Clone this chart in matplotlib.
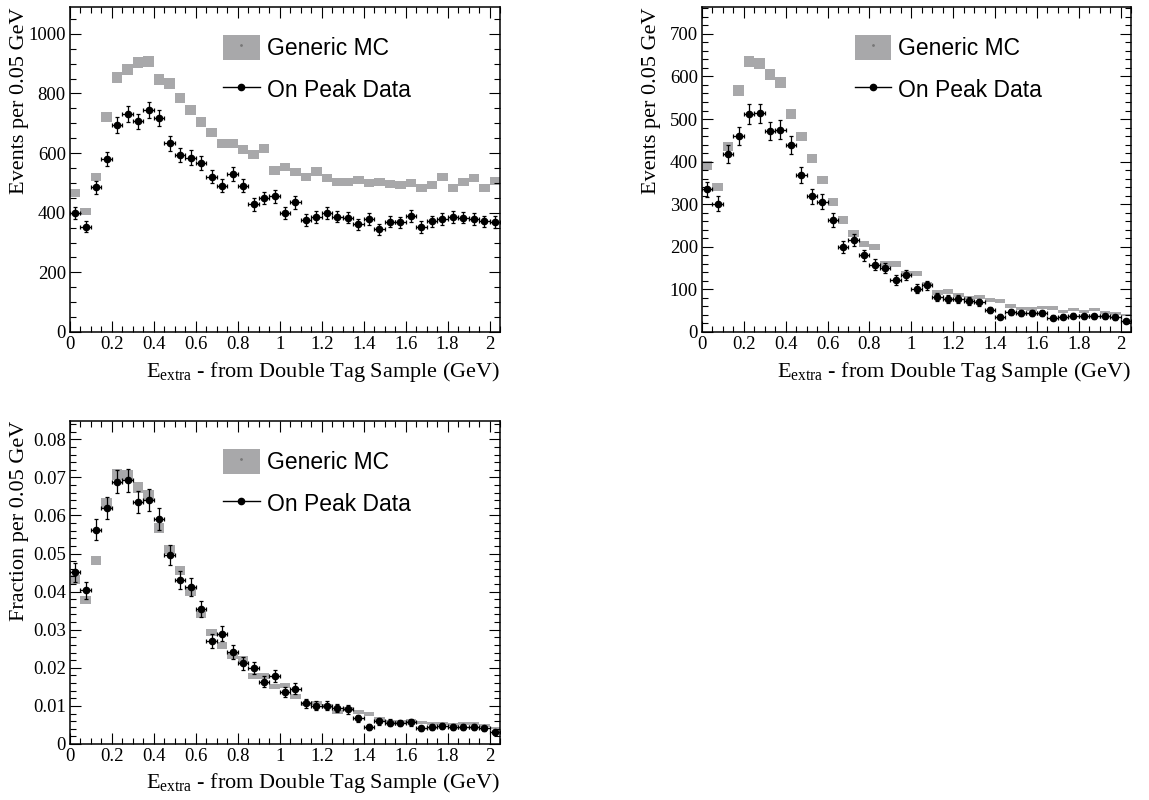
import numpy as np
import matplotlib
matplotlib.use("Agg")
from matplotlib import pyplot as plt
from matplotlib.patches import Patch
from matplotlib.lines import Line2D
from matplotlib.ticker import MultipleLocator, FormatStrFormatter

plt.rcParams['font.family'] = ['Liberation Serif', 'DejaVu Serif']
plt.rcParams['mathtext.default'] = 'regular'

# bins of 0.05 GeV from 0 to 2.05
bin_width = 0.05
centers = np.arange(41) * bin_width + bin_width / 2

# top left: events, double tag sample
data_1 = [398, 353, 486, 580, 695, 731, 706, 745, 717, 633, 594, 585, 566, 521, 491, 530,
          491, 428, 449, 455, 398, 435, 375, 385, 398, 387, 384, 361, 379, 345, 370, 368,
          390, 352, 371, 380, 385, 384, 378, 371, 369]
mc_1 = [467, 405, 521, 722, 853, 881, 905, 908, 846, 833, 786, 746, 704, 670, 633, 633,
        613, 594, 616, 541, 553, 536, 520, 538, 516, 504, 504, 510, 501, 504, 497, 492,
        499, 484, 493, 521, 482, 504, 516, 484, 507]

# top right: events
data_2 = [335, 301, 418, 460, 512, 513, 472, 475, 439, 369, 319, 306, 263, 199, 216, 180,
          158, 150, 122, 134, 102, 110, 83, 77, 77, 73, 70, 52, 36, 48, 44, 44,
          45, 34, 36, 38, 37, 37, 37, 35, 26]
mc_2 = [391, 340, 435, 567, 635, 630, 604, 586, 511, 459, 408, 357, 305, 263, 232, 207,
        200, 160, 160, 137, 138, 113, 93, 95, 86, 79, 83, 75, 73, 61, 55, 54,
        57, 56, 48, 52, 48, 52, 46, 44, 40]

# bottom left: fraction
data_3 = [0.0451, 0.0403, 0.0562, 0.0620, 0.0689, 0.0692, 0.0636, 0.0640, 0.0591, 0.0496,
          0.0430, 0.0411, 0.0354, 0.0270, 0.0290, 0.0241, 0.0212, 0.0200, 0.0164, 0.0179,
          0.0136, 0.0145, 0.0107, 0.0101, 0.0101, 0.0095, 0.0091, 0.0067, 0.0044, 0.0060,
          0.0056, 0.0055, 0.0057, 0.0041, 0.0044, 0.0047, 0.0045, 0.0045, 0.0045, 0.0041,
          0.0031]
mc_3 = [0.0432, 0.0378, 0.0482, 0.0632, 0.0708, 0.0704, 0.0673, 0.0654, 0.0568, 0.0511,
        0.0455, 0.0399, 0.0340, 0.0292, 0.0258, 0.0231, 0.0222, 0.0178, 0.0178, 0.0152,
        0.0153, 0.0124, 0.0105, 0.0107, 0.0099, 0.0083, 0.0093, 0.0085, 0.0078, 0.0066,
        0.0060, 0.0058, 0.0062, 0.0056, 0.0053, 0.0055, 0.0050, 0.0055, 0.0054, 0.0048,
        0.0042]

n_data_total = 7430   # events behind the fraction plot
n_mc_total = 8970
mc_weight_1 = 0.37    # MC scale factors (box heights)
mc_weight_2 = 0.27

mc_grey = '#a8a8aa'


def draw(ax, data, data_err, mc, mc_err, ymax, ymajor, yminor, ylabel):
    data = np.array(data)
    mc = np.array(mc)
    ax.bar(centers, 2 * mc_err, bottom=mc - mc_err, width=bin_width,
           color=mc_grey, linewidth=0, zorder=1)
    ax.errorbar(centers, data, xerr=bin_width / 2, yerr=data_err, fmt='o', color='black',
                ms=4.5, elinewidth=0.9, capsize=1.6, capthick=0.9, zorder=3)
    ax.set_xlim(0, 2.05)
    ax.set_ylim(0, ymax)
    ax.xaxis.set_major_locator(MultipleLocator(0.2))
    ax.xaxis.set_minor_locator(MultipleLocator(0.05))
    ax.xaxis.set_major_formatter(FormatStrFormatter('%g'))
    ax.yaxis.set_major_locator(MultipleLocator(ymajor))
    ax.yaxis.set_minor_locator(MultipleLocator(yminor))
    ax.yaxis.set_major_formatter(FormatStrFormatter('%g'))
    ax.tick_params(which='both', direction='in', top=True, right=True, labelsize=13.5,
                   width=0.8, pad=3)
    ax.tick_params(which='major', length=8)
    ax.tick_params(which='minor', length=4)
    for s in ax.spines.values():
        s.set_linewidth(1.1)
    ax.set_xlabel(r'E$_{\mathregular{extra}}$ - from Double Tag Sample (GeV)',
                  fontsize=16, loc='right')
    ax.set_ylabel(ylabel, fontsize=16, loc='top')
    ax.xaxis.set_label_coords(1.0, -0.085)
    ax.yaxis.set_label_coords(-0.095, 1.0)

    h_mc = (Patch(facecolor=mc_grey, edgecolor='none'),
            Line2D([], [], marker='o', ms=1, color='#777777', ls='none'))
    h_data = Line2D([], [], color='black', marker='o', ms=4.5, lw=1)
    ax.legend([h_mc, h_data], ['Generic MC', 'On Peak Data'], loc='upper left',
              bbox_to_anchor=(0.356, 0.913), frameon=False, borderpad=0, borderaxespad=0,
              prop={'family': 'Liberation Sans', 'size': 16.5},
              handlelength=1.6, handleheight=1.3, handletextpad=0.3, labelspacing=0.72)


fig = plt.figure(figsize=(11.49, 8), dpi=100)
ax1 = fig.add_axes([70 / 1149, 1 - 332 / 800, 430 / 1149, 325 / 800])
ax2 = fig.add_axes([702 / 1149, 1 - 332 / 800, 429 / 1149, 325 / 800])
ax3 = fig.add_axes([70 / 1149, 1 - 744 / 800, 430 / 1149, 323 / 800])

d1 = np.array(data_1)
m1 = np.array(mc_1)
draw(ax1, d1, np.sqrt(d1), m1, np.sqrt(m1 * mc_weight_1), 1090, 200, 50,
     'Events per 0.05 GeV')

d2 = np.array(data_2)
m2 = np.array(mc_2)
draw(ax2, d2, np.sqrt(d2), m2, np.sqrt(m2 * mc_weight_2), 763, 100, 20,
     'Events per 0.05 GeV')

d3 = np.array(data_3)
m3 = np.array(mc_3)
draw(ax3, d3, np.sqrt(d3 / n_data_total), m3, np.sqrt(m3 * mc_weight_2 / n_mc_total),
     0.0848, 0.01, 0.002, 'Fraction per 0.05 GeV')

fig.savefig('out.png', dpi=100)
